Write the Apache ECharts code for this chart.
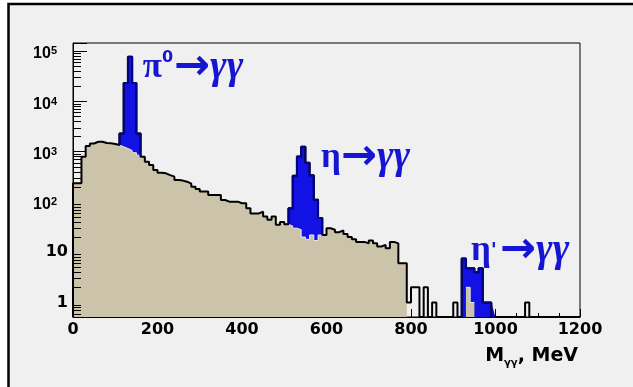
<!DOCTYPE html>
<html><head><meta charset="utf-8">
<script src="https://cdn.jsdelivr.net/npm/echarts@6/dist/echarts.min.js"></script>
<style>html,body{margin:0;padding:0;background:#ffffff}#c{width:633px;height:387px}</style>
</head><body><div id="c"></div>
<script>
// ---- data (10 MeV bins, left edges 0,10,...,1190) ----
const binWidth = 10;
const totalCounts = [
  234, 234, 790, 1290, 1450, 1570, 1570, 1480, 1460, 1420,
  1350, 2300, 23000, 77000, 23000, 2300, 790, 630, 540, 430,
  380, 370, 340, 317, 272, 265, 252, 230, 200, 180,
  160, 160, 137, 137, 137, 109, 101, 101, 101, 94,
  94, 75, 59, 59, 64, 51, 44, 51, 35, 40,
  36, 75, 330, 800, 1250, 600, 340, 110, 48, 22,
  30, 28, 25, 27, 23, 20, 18, 16, 16, 15,
  17, 15, 13, 14, 12, 16, 15, 6, 6, 1,
  2, 2, 0, 2, 0, 1, 0, 0, 0, 0,
  1, 0, 7.5, 4.8, 4.8, 4.0, 4.8, 1, 1, 0,
  0, 0, 0, 0, 0, 0, 0, 1, 0, 0,
  0, 0, 0, 0, 0, 0, 0, 0, 0, 0
];
const backgroundCounts = [
  234, 234, 790, 1290, 1450, 1570, 1570, 1480, 1460, 1420,
  1350, 1250, 1150, 1050, 950, 850, 790, 630, 540, 430,
  380, 370, 340, 317, 272, 265, 252, 230, 200, 180,
  160, 160, 137, 137, 137, 109, 101, 101, 101, 94,
  94, 75, 59, 59, 64, 51, 44, 51, 35, 40,
  36, 33, 30, 28, 20, 18, 22, 17, 22, 22,
  30, 28, 25, 27, 23, 20, 18, 16, 16, 15,
  17, 15, 13, 14, 12, 16, 15, 6, 6, 0,
  0, 0, 0, 0, 0, 0, 0, 0, 0, 0,
  0, 0, 0, 2, 1, 0, 0, 0, 0, 0,
  0, 0, 0, 0, 0, 0, 0, 0, 0, 0,
  0, 0, 0, 0, 0, 0, 0, 0, 0, 0
];
const peakRanges = [[110, 160], [510, 590], [920, 1000]];   // MeV
const peakMeson = ['π', 'η', 'η'];
const peakSup = ['0', '', ''];
const peakPrime = ['', '', "'"];
const peakArrow = '→';
const peakProducts = 'γγ';
const peakLabelAnchor = [[165, 46000], [587, 750], [942, 10.8]]; // data coords of label start
const xTickLabels = ['0', '200', '400', '600', '800', '1000', '1200'];
const yDecades = [0, 1, 2, 3, 4, 5];
const xTitle = ['M', 'γγ', ', MeV'];

// ---- layout / style ----
const yMin = 0.515, yMax = 144000;
const xMax = totalCounts.length * binWidth;
const BLUE = '#1212e4', NAVY = '#05057a', TAN = '#ccc4aa', BG = '#f0f0f0', TXT = '#1616d2';

const edge = i => i * binWidth;
const fl = v => (v > 0 ? v : yMin);

const outlinePts = [[0, yMin]];
totalCounts.forEach((v, i) => { outlinePts.push([edge(i), fl(v)], [edge(i + 1), fl(v)]); });
outlinePts.push([xMax, yMin]);

const tanPts = [];
backgroundCounts.forEach((v, i) => {
  if (v > 0) tanPts.push([edge(i), v], [edge(i + 1), v]);
  else if (tanPts.length && tanPts[tanPts.length - 1][1] !== null) tanPts.push([edge(i), null]);
});

const bluePts = [], navyPts = [];
peakRanges.forEach(([lo, hi]) => {
  const a = lo / binWidth, b = hi / binWidth;
  navyPts.push([edge(a), fl(totalCounts[a - 1])]);
  for (let i = a; i < b; i++) {
    bluePts.push([edge(i), totalCounts[i]], [edge(i + 1), totalCounts[i]]);
    navyPts.push([edge(i), fl(totalCounts[i])], [edge(i + 1), fl(totalCounts[i])]);
  }
  navyPts.push([edge(b), fl(totalCounts[b])]);
  bluePts.push([edge(b), null]);
  navyPts.push([edge(b), null]);
});

const minorTicks = [];
for (let d = -1; d <= 5; d++) for (let k = 2; k <= 9; k++) {
  const v = k * Math.pow(10, d);
  if (v > yMin && v < yMax) minorTicks.push([0, v]);
}

const chart = echarts.init(document.getElementById('c'), null, {renderer: 'canvas'});
const lineBase = {type: 'line', symbol: 'none', showSymbol: false, connectNulls: false, animation: false, silent: true};

chart.setOption({
  backgroundColor: 'transparent',
  animation: false,
  grid: {left: 73, right: 53, top: 43, bottom: 70, show: true, borderColor: '#000', borderWidth: 1, backgroundColor: 'transparent'},
  xAxis: {
    type: 'value', min: 0, max: xMax, interval: 200,
    axisLine: {show: true, lineStyle: {color: '#000', width: 1}},
    axisTick: {show: true, inside: true, length: 8, lineStyle: {color: '#000'}},
    minorTick: {show: true, splitNumber: 4, length: 4, lineStyle: {color: '#000'}},
    splitLine: {show: false},
    axisLabel: {margin: 5, color: '#000', fontFamily: 'DejaVu Sans', fontWeight: 'bold', fontSize: 16, lineHeight: 16,
      formatter: v => xTickLabels[Math.round(v / 200)] ?? ''},
    name: '{m|' + xTitle[0] + '}{s|' + xTitle[1] + '}{m|' + xTitle[2] + '}',
    nameLocation: 'end', nameGap: -2,
    nameTextStyle: {align: 'right', verticalAlign: 'top', padding: [28, 0, 0, 0],
      rich: {
        m: {fontFamily: 'DejaVu Sans', fontWeight: 'bold', fontSize: 19, color: '#000', lineHeight: 23},
        s: {fontFamily: 'DejaVu Sans', fontWeight: 'bold', fontSize: 10, color: '#000', lineHeight: 10, verticalAlign: 'bottom'}
      }}
  },
  yAxis: {
    type: 'log', logBase: 10, min: yMin, max: yMax,
    axisLine: {show: true, lineStyle: {color: '#000', width: 1}},
    axisTick: {show: true, inside: true, length: 14, lineStyle: {color: '#000'}},
    splitLine: {show: false},
    axisLabel: {margin: 5, color: '#000',
      formatter: v => {
        const L = Math.log10(v), r = Math.round(L);
        if (Math.abs(L - r) > 1e-6 || yDecades.indexOf(r) < 0) return '';
        if (r === 0) return '{p|1}';
        if (r === 1) return '{p|10}';
        return '{b|10}{s|' + r + '}';
      },
      rich: {
        p: {fontFamily: 'DejaVu Sans', fontWeight: 'bold', fontSize: 16, lineHeight: 16, color: '#000'},
        b: {fontFamily: "'Liberation Sans Narrow', 'Liberation Sans'", fontWeight: 'bold', fontSize: 16, lineHeight: 14, padding: [6, 0, 0, 0], color: '#000'},
        s: {fontFamily: "'Liberation Sans Narrow', 'Liberation Sans'", fontWeight: 'bold', fontSize: 11, lineHeight: 10, padding: [2, 11, 0, 0], verticalAlign: 'top', color: '#000'}
      }}
  },
  series: [
    Object.assign({}, lineBase, {name: 'signal', data: bluePts, z: 2, lineStyle: {width: 0, opacity: 0}, areaStyle: {color: BLUE, opacity: 1, origin: 'start'}}),
    Object.assign({}, lineBase, {name: 'background', data: tanPts, z: 3, lineStyle: {color: '#ede9de', width: 1}, areaStyle: {color: TAN, opacity: 1, origin: 'start'}}),
    Object.assign({}, lineBase, {name: 'total', data: outlinePts, z: 4, lineStyle: {color: '#000', width: 2}}),
    Object.assign({}, lineBase, {name: 'peaks', data: navyPts, z: 5, lineStyle: {color: NAVY, width: 2}}),
    {type: 'custom', name: 'minorTicks', data: minorTicks, z: 6, silent: true, clip: false, animation: false,
      encode: {x: 0, y: 1},
      renderItem: (params, api) => {
        const p = api.coord([api.value(0), api.value(1)]);
        const y = Math.round(p[1]) + 0.5;
        return {type: 'line', shape: {x1: p[0], y1: y, x2: p[0] + 8, y2: y}, style: {stroke: '#000', lineWidth: 1}};
      }}
  ]
});

// annotations anchored to data coordinates
const gr = [{type: 'rect', z: -10, silent: true, shape: {x: 8.5, y: 4, width: 700, height: 500},
  style: {fill: BG, stroke: '#000', lineWidth: 2.5}}];
const richAnn = {
  m: {fontFamily: 'Liberation Serif', fontWeight: 'bold', fontSize: 35, lineHeight: 36, fill: TXT},
  d: {fontFamily: 'DejaVu Sans', fontWeight: 'bold', fontSize: 16, lineHeight: 32, verticalAlign: 'top', padding: [0, 1, 4, 0], fill: TXT},
  q: {fontFamily: 'DejaVu Sans', fontWeight: 'bold', fontSize: 20, lineHeight: 36, fill: TXT, padding: [0, 3, 0, 0]},
  a: {fontFamily: 'DejaVu Sans', fontWeight: 'bold', fontSize: 43, lineHeight: 36, fill: TXT},
  c: {fontFamily: 'Liberation Serif', fontWeight: 'bold', fontStyle: 'italic', fontSize: 40, lineHeight: 36, fill: TXT}
};
peakMeson.forEach((m, i) => {
  const p = chart.convertToPixel({gridIndex: 0}, peakLabelAnchor[i]);
  let txt = '{m|' + m + '}';
  if (peakSup[i]) txt += '{d|' + peakSup[i] + '}';
  if (peakPrime[i]) txt += '{q|' + peakPrime[i] + '}';
  txt += '{a|' + peakArrow + '}{c|' + peakProducts + '}';
  gr.push({type: 'text', z: 100, silent: true, x: p[0], y: p[1],
    style: {text: txt, align: 'left', verticalAlign: 'middle', rich: richAnn}});
});
chart.setOption({graphic: gr});
</script></body></html>
